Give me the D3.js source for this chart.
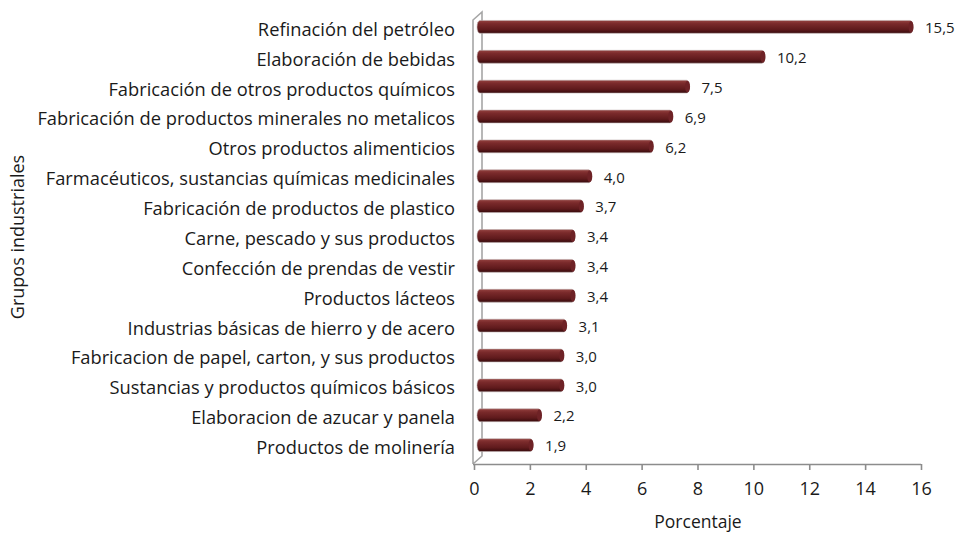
<!DOCTYPE html>
<html>
<head>
<meta charset="utf-8">
<script src="https://cdn.jsdelivr.net/npm/d3@7"></script>
<style>
  body { margin: 0; background: #fff; }
  text { font-family: "Open Sans", "Noto Sans", sans-serif; fill: #1a1a1a; }
</style>
</head>
<body>
<div id="chart"></div>
<script>
// data
var categories = [
  "Refinación del petróleo",
  "Elaboración de bebidas",
  "Fabricación de otros productos químicos",
  "Fabricación de productos minerales no metalicos",
  "Otros productos alimenticios",
  "Farmacéuticos, sustancias químicas medicinales",
  "Fabricación de productos de plastico",
  "Carne, pescado y sus productos",
  "Confección de prendas de vestir",
  "Productos lácteos",
  "Industrias básicas de hierro y de acero",
  "Fabricacion de papel, carton, y sus productos",
  "Sustancias y productos químicos básicos",
  "Elaboracion de azucar y panela",
  "Productos de molinería"
];
var values = [15.5, 10.2, 7.5, 6.9, 6.2, 4.0, 3.7, 3.4, 3.4, 3.4, 3.1, 3.0, 3.0, 2.2, 1.9];
var xTicks = [0, 2, 4, 6, 8, 10, 12, 14, 16];

var svgWidth = 956;
var svgHeight = 536;

var svg = d3.select("#chart")
  .append("svg")
  .attr("width", svgWidth)
  .attr("height", svgHeight);

var x = d3.scaleLinear().domain([0, 16]).range([474, 921]);
var y = d3.scaleBand().domain(categories).range([13, 462]).paddingInner(0.57).paddingOuter(0.3);

var axisY = 464;
var depthX = 9, depthY = -8;   // back wall offset
var barDx = 6, barDy = -1.5;   // bars sit part way into the depth

// gradient for the cylinder look
var defs = svg.append("defs");
var grad = defs.append("linearGradient")
  .attr("id", "barGrad")
  .attr("x1", 0).attr("y1", 0).attr("x2", 0).attr("y2", 1);
grad.append("stop").attr("offset", "0%").attr("stop-color", "#94413f");
grad.append("stop").attr("offset", "25%").attr("stop-color", "#7a2a2b");
grad.append("stop").attr("offset", "70%").attr("stop-color", "#5f1a1c");
grad.append("stop").attr("offset", "100%").attr("stop-color", "#380b0d");

// 3D wall lines
var wall = svg.append("g")
  .attr("fill", "none")
  .attr("stroke", "#a6a6a6")
  .attr("stroke-width", 1.6);
wall.append("path")
  .attr("d", `M${x(0) - 1},${axisY} L${x(0) - 1},20 L${x(0) - 1 + depthX},${20 + depthY} L${x(0) - 1 + depthX},${axisY + depthY} L${x(0) - 1},${axisY}`);

// x axis
var bottomAxis = d3.axisBottom(x)
  .tickValues(xTicks)
  .tickSize(6)
  .tickPadding(12)
  .tickFormat(d3.format("d"));

var xAxis = svg.append("g")
  .attr("transform", `translate(0, ${axisY})`)
  .call(bottomAxis);
xAxis.select(".domain").attr("stroke", "#8c8c8c").attr("stroke-width", 1.6)
  .attr("d", `M${x(0) - 1},0.5H${x(16)}`);
xAxis.selectAll(".tick line").attr("stroke", "#8c8c8c").attr("stroke-width", 1.6);
xAxis.selectAll(".tick text")
  .style("font-family", "'Open Sans', sans-serif")
  .style("font-size", "18px")
  .attr("fill", "#1a1a1a");

// bars
var barsGroup = svg.append("g");
var bh = y.bandwidth();

barsGroup.selectAll("rect.bar")
  .data(values)
  .enter()
  .append("rect")
  .attr("class", "bar")
  .attr("x", x(0) + barDx - 3)
  .attr("y", (d, i) => y(categories[i]) + barDy)
  .attr("width", d => x(d) - x(0) + 3)
  .attr("height", bh)
  .attr("rx", 3)
  .attr("ry", bh / 2)
  .attr("fill", "url(#barGrad)")
  .attr("stroke", "#bfb0b0")
  .attr("stroke-width", 0.6);

// end cap
barsGroup.selectAll("ellipse.cap")
  .data(values)
  .enter()
  .append("ellipse")
  .attr("class", "cap")
  .attr("cx", d => x(d) + barDx - 2)
  .attr("cy", (d, i) => y(categories[i]) + barDy + bh / 2)
  .attr("rx", 2.5)
  .attr("ry", bh / 2 - 0.5)
  .attr("fill", "#6e2226");

// value labels
svg.append("g").selectAll("text")
  .data(values)
  .enter()
  .append("text")
  .attr("x", d => x(d) + barDx + 12)
  .attr("y", (d, i) => y(categories[i]) + barDy + bh / 2 + 1)
  .attr("dy", "0.35em")
  .style("font-size", "15px")
  .text(d => d.toFixed(1).replace(".", ","));

// category labels
svg.append("g").selectAll("text")
  .data(categories)
  .enter()
  .append("text")
  .attr("x", 455)
  .attr("y", d => y(d) + bh / 2 + 1)
  .attr("dy", "0.35em")
  .attr("text-anchor", "end")
  .style("font-size", "18.3px")
  .text(d => d);

// axis titles
svg.append("text")
  .attr("x", 698)
  .attr("y", 528)
  .attr("text-anchor", "middle")
  .style("font-size", "17.5px")
  .text("Porcentaje");

svg.append("text")
  .attr("transform", "translate(24, 237) rotate(-90)")
  .attr("text-anchor", "middle")
  .style("font-size", "18px")
  .text("Grupos industriales");
</script>
</body>
</html>
